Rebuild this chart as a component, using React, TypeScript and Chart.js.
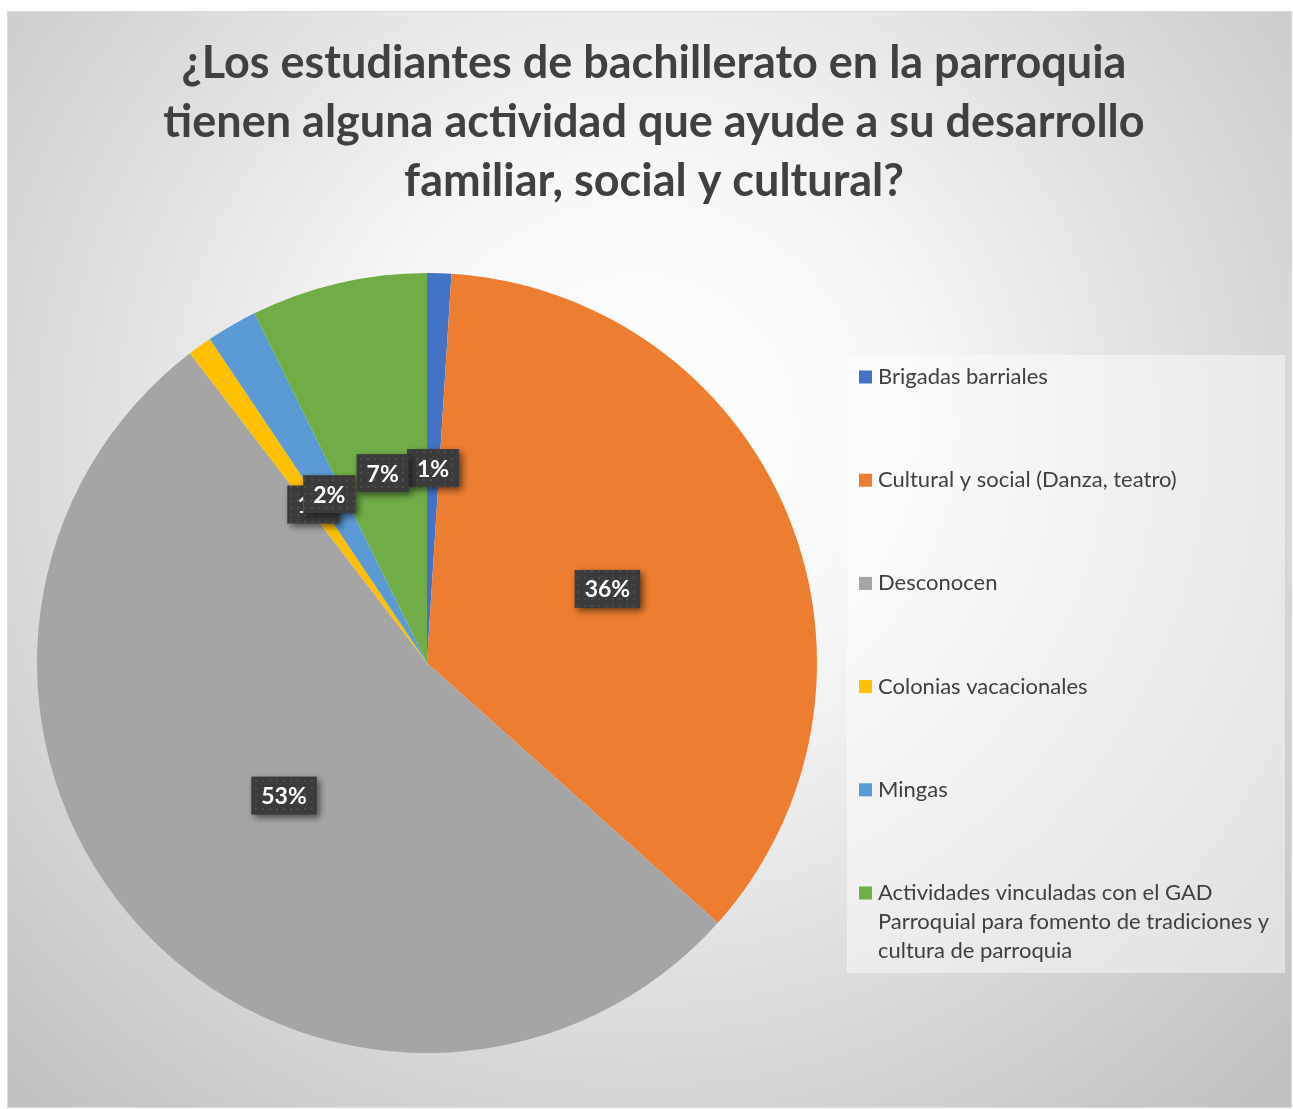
import React, { useEffect, useRef } from "react";
import { Chart, registerables } from "chart.js";

Chart.register(...registerables);

const W = 1293;
const H = 1109;

const categories = [
  "Brigadas barriales",
  "Cultural y social (Danza, teatro)",
  "Desconocen",
  "Colonias vacacionales",
  "Mingas",
  "Actividades vinculadas con el GAD Parroquial para fomento de tradiciones y cultura de parroquia",
];
const values = [1, 35.6, 53, 1, 2.1, 7.3];
const colors = ["#4472C4", "#ED7D31", "#A5A5A5", "#FFC000", "#5B9BD5", "#70AD47"];
const legendLines = [
  ["Brigadas barriales"],
  ["Cultural y social (Danza, teatro)"],
  ["Desconocen"],
  ["Colonias vacacionales"],
  ["Mingas"],
  ["Actividades vinculadas con el GAD", "Parroquial para fomento de tradiciones y", "cultura de parroquia"],
];
const titleLines = [
  "¿Los estudiantes de bachillerato en la parroquia",
  "tienen alguna actividad que ayude a su desarrollo",
  "familiar, social y cultural?",
];

const FONT = "Lato, 'Open Sans', sans-serif";

function makePattern(ctx: CanvasRenderingContext2D) {
  const c = document.createElement("canvas");
  c.width = 7;
  c.height = 7;
  const g = c.getContext("2d")!;
  g.fillStyle = "#3b3b3b";
  g.fillRect(0, 0, 7, 7);
  g.fillStyle = "#4c4c4c";
  g.fillRect(3, 3, 2, 2);
  return ctx.createPattern(c, "repeat");
}

const decorPlugin = {
  id: "decor",
  beforeDraw(chart: any) {
    const ctx: CanvasRenderingContext2D = chart.ctx;
    ctx.save();
    ctx.fillStyle = "#ffffff";
    ctx.fillRect(0, 0, W, H);
    const g = ctx.createRadialGradient(640, 430, 0, 640, 430, 900);
    g.addColorStop(0, "#ffffff");
    g.addColorStop(0.3, "#f7f7f7");
    g.addColorStop(1, "#c2c2c2");
    ctx.fillStyle = g;
    ctx.fillRect(7, 11, 1285, 1097);
    ctx.strokeStyle = "#d9d9d9";
    ctx.lineWidth = 1;
    ctx.strokeRect(7.5, 11.5, 1284, 1096);

    // title
    ctx.fillStyle = "#404040";
    ctx.font = `bold 45px ${FONT}`;
    ctx.textAlign = "center";
    ctx.textBaseline = "middle";
    titleLines.forEach((t, i) => ctx.fillText(t, 654, 63 + i * 59));

    // legend
    ctx.fillStyle = "rgba(255,255,255,0.45)";
    ctx.fillRect(847, 355, 438, 618);
    ctx.font = `22px ${FONT}`;
    ctx.textAlign = "left";
    ctx.textBaseline = "middle";
    const bg = chart.data.datasets[0].backgroundColor as string[];
    legendLines.forEach((lines, i) => {
      const y = 377 + i * 103.2;
      ctx.fillStyle = bg[i];
      ctx.fillRect(859, y - 6.5, 13, 13);
      ctx.fillStyle = "#404040";
      lines.forEach((ln, j) => ctx.fillText(ln, 878, y + j * 29));
    });
    ctx.restore();
  },
  afterDatasetsDraw(chart: any) {
    const ctx: CanvasRenderingContext2D = chart.ctx;
    const meta = chart.getDatasetMeta(0);
    const data = chart.data.datasets[0].data as number[];
    const total = data.reduce((a, b) => a + b, 0);
    const pattern = makePattern(ctx);
    ctx.save();
    ctx.font = `bold 23px ${FONT}`;
    ctx.textAlign = "center";
    ctx.textBaseline = "middle";
    meta.data.forEach((arc: any, i: number) => {
      const p = arc.tooltipPosition();
      const txt = Math.round((data[i] / total) * 100) + "%";
      const tw = ctx.measureText(txt).width;
      const bw = tw + 20;
      const bh = 38;
      ctx.save();
      ctx.shadowColor = "rgba(0,0,0,0.55)";
      ctx.shadowBlur = 7;
      ctx.shadowOffsetX = 3;
      ctx.shadowOffsetY = 3;
      ctx.fillStyle = pattern || "#3b3b3b";
      ctx.fillRect(p.x - bw / 2, p.y - bh / 2, bw, bh);
      ctx.restore();
      ctx.fillStyle = "#ffffff";
      ctx.fillText(txt, p.x, p.y + 1);
    });
    ctx.restore();
  },
};

export default function App() {
  const ref = useRef<HTMLCanvasElement>(null);
  useEffect(() => {
    if (!ref.current) return;
    const chart = new Chart(ref.current, {
      type: "pie",
      data: {
        labels: categories,
        datasets: [
          {
            data: values,
            backgroundColor: colors,
            borderWidth: 0,
          },
        ],
      },
      options: {
        animation: false,
        responsive: false,
        devicePixelRatio: 1,
        layout: { padding: { left: 37, right: 476, top: 273, bottom: 56 } },
        plugins: {
          legend: { display: false },
          tooltip: { enabled: false },
          title: { display: false },
        },
      },
      plugins: [decorPlugin],
    });
    return () => chart.destroy();
  }, []);
  return (
    <div style={{ position: "absolute", left: 0, top: 0, width: W, height: H }}>
      <canvas ref={ref} width={W} height={H} style={{ display: "block", width: W, height: H }} />
    </div>
  );
}
